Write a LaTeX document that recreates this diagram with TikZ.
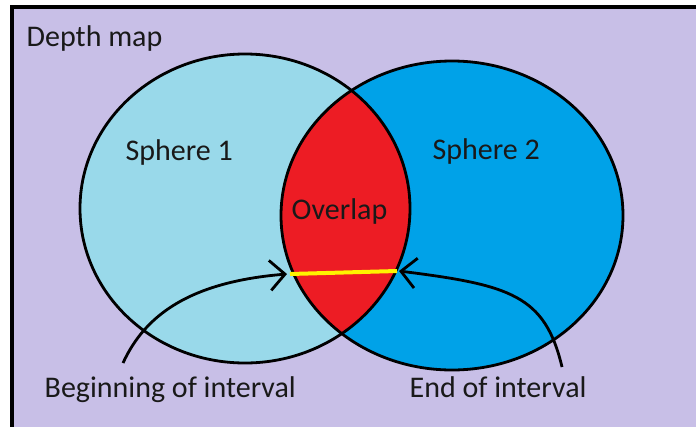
\documentclass[tikz,border=0pt]{standalone}
\usepackage{fontspec}
\setmainfont{Carlito}
\usetikzlibrary{arrows.meta}

\definecolor{lavender}{RGB}{200,191,231}
\definecolor{turquoise}{RGB}{153,217,234}
\definecolor{skyblue}{RGB}{0,162,232}
\definecolor{paintred}{RGB}{237,28,36}
\definecolor{paintyellow}{RGB}{255,242,0}

\begin{document}
\begin{tikzpicture}[
  x=1pt, y=-1pt,
  lbl/.style={font=\fontsize{30}{34}\selectfont, text=black!90, inner sep=0pt, anchor=base west},
  outline/.style={draw=black, line width=2.8pt},
  arrow/.style={-{Straight Barb[length=15pt, width=30pt, line width=2.8pt]}, line width=2.8pt}
]
  \useasboundingbox (0,0) rectangle (696,426);
  % frame
  \fill[lavender] (12,7) rectangle (700,430);
  \draw[line width=4pt] (12,430) -- (12,7) -- (700,7);

  % spheres
  \def\sphereone{(245,208.5) ellipse [x radius=165, y radius=154.5]}
  \def\spheretwo{(452,215.5) ellipse [x radius=171, y radius=154.5]}
  \fill[turquoise] \sphereone;
  \fill[skyblue] \spheretwo;
  \begin{scope}
    \clip \sphereone;
    \fill[paintred] \spheretwo;
  \end{scope}
  \path[outline] \sphereone;
  \path[outline] \spheretwo;

  % interval
  \coordinate (ivstart) at (290,274);
  \coordinate (ivend)   at (397,271);
  \draw[paintyellow, line width=4pt] (ivstart) -- (ivend);

  \node[lbl] (title)   at (26.5,46)  {Depth map};
  \node[lbl] (sph1)    at (125.5,160) {Sphere 1};
  \node[lbl] (sph2)    at (432.5,159) {Sphere 2};
  \node[lbl] (overlap) at (291.5,219) {Overlap};
  \node[lbl] (beglbl)  at (44.5,397)  {Beginning of interval};
  \node[lbl] (endlbl)  at (409.5,397) {End of interval};

  \coordinate (begtail) at (123,363);
  \coordinate (endtail) at (562,367);
  \draw[arrow] (begtail) .. controls (145,315) and (190,282) .. ([xshift=-3pt]ivstart);
  \draw[arrow] (endtail) .. controls (545,295) and (510,285) .. ([xshift=2pt]ivend);
\end{tikzpicture}
\end{document}
